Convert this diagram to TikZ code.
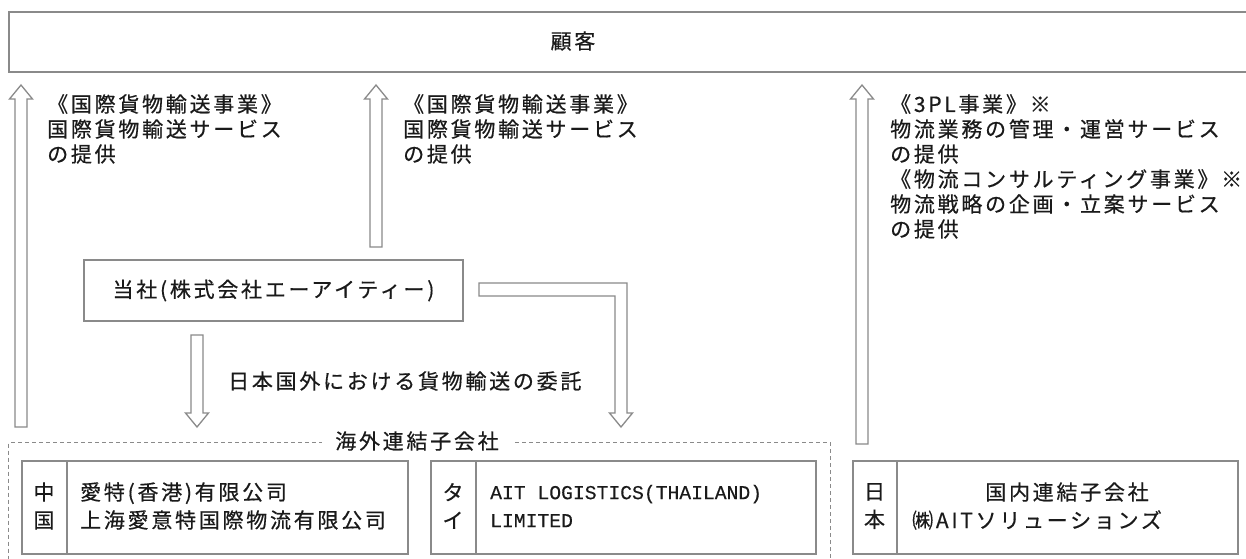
\documentclass[tikz,border=0pt]{standalone}
\usepackage{fontspec}
\setmainfont{Noto Sans CJK JP}[LetterSpace=13, FakeBold=0.5]
\newfontfamily\monofont{Liberation Mono}[FakeBold=0.3]
\definecolor{lg}{HTML}{8A8A8A}
\definecolor{tx}{HTML}{1A1A1A}
\newcommand\blkup[3]{\draw[barrow] (#1-6,#2) -- (#1-6,#3+14) -- (#1-11.5,#3+14) -- (#1,#3) -- (#1+11.5,#3+14) -- (#1+6,#3+14) -- (#1+6,#2) -- cycle;}
\newcommand\blkdown[3]{\draw[barrow] (#1-6,#2) -- (#1-6,#3-14) -- (#1-11.5,#3-14) -- (#1,#3) -- (#1+11.5,#3-14) -- (#1+6,#3-14) -- (#1+6,#2) -- cycle;}
\begin{document}
\begin{tikzpicture}[x=1pt,y=-1pt,
  box/.style={draw=lg, line width=1.5pt, inner sep=0pt},
  barrow/.style={draw=lg, line width=1.3pt, fill=white, line join=miter},
  txt/.style={text=tx, inner sep=0pt, font=\fontsize{21}{25}\selectfont, align=left},
  cell/.style={txt, font=\fontsize{21}{28}\selectfont},
  divider/.style={draw=lg, line width=1.5pt}]
\useasboundingbox (0,0) rectangle (1246,558);
\fill[white] (0,0) rectangle (1246,558);

% customer box
\node[box, minimum width=1250pt, minimum height=60pt, anchor=north west] (cust) at (8,11) {};
\node[txt] (custlbl) at (573,41) {顧客};

% company box
\node[box, txt, minimum width=379pt, minimum height=61pt] (ait) at (273.5,290.5) {当社(株式会社エーアイティー)};

% arrows
\blkup{21}{427}{85}
\blkup{376}{247}{85}
\blkup{862}{444}{85}
\blkdown{197}{335}{427}
\draw[barrow] (479,283) -- (627,283) -- (627,413) -- (632.5,413) -- (621,427) -- (609.5,413) -- (615,413) -- (615,296) -- (479,296) -- cycle;

% arrow texts
\node[txt, anchor=north west] (t1) at (47,94) {《国際貨物輸送事業》\\国際貨物輸送サービス\\の提供};
\node[txt, anchor=north west] (t2) at (403,94) {《国際貨物輸送事業》\\国際貨物輸送サービス\\の提供};
\node[txt, anchor=north west] (t3) at (890,94) {《3PL事業》※\\物流業務の管理・運営サービス\\の提供\\《物流コンサルティング事業》※\\物流戦略の企画・立案サービス\\の提供};
\node[txt, anchor=west] (t4) at (228,381) {日本国外における貨物輸送の委託};

% overseas group
\node[draw=lg, line width=1.2pt, dash pattern=on 4pt off 3pt, minimum width=822pt, minimum height=140pt, anchor=north west, inner sep=0pt] (overseas) at (8,442) {};
\node[txt, fill=white, inner xsep=13pt, inner ysep=2pt] (ovlbl) at (417,441) {海外連結子会社};

% China
\node[box, minimum width=386pt, minimum height=93pt, anchor=north west] (cn) at (21,460) {};
\draw[divider] ([xshift=46pt]cn.north west) -- ([xshift=46pt]cn.south west);
\node[cell, align=center] (cnl) at (44,506) {中\\国};
\node[cell, anchor=west] (cnn) at (80,506) {愛特(香港)有限公司\\上海愛意特国際物流有限公司};

% Thailand
\node[box, minimum width=385pt, minimum height=93pt, anchor=north west] (th) at (430,460) {};
\draw[divider] ([xshift=46pt]th.north west) -- ([xshift=46pt]th.south west);
\node[cell, align=center] (thl) at (453,506) {タ\\イ};
\node[cell, anchor=west, font=\monofont\fontsize{19.7}{28}\selectfont] (thn) at (490,506) {AIT LOGISTICS(THAILAND)\\LIMITED};

% Japan
\node[box, minimum width=385pt, minimum height=93pt, anchor=north west] (jp) at (852,460) {};
\draw[divider] ([xshift=45pt]jp.north west) -- ([xshift=45pt]jp.south west);
\node[cell, align=center] (jpl) at (874.5,506) {日\\本};
\node[txt] (jpn1) at (1067,492) {国内連結子会社};
\node[txt, anchor=west] (jpn2) at (912,520) {㈱AITソリューションズ};
\end{tikzpicture}
\end{document}
